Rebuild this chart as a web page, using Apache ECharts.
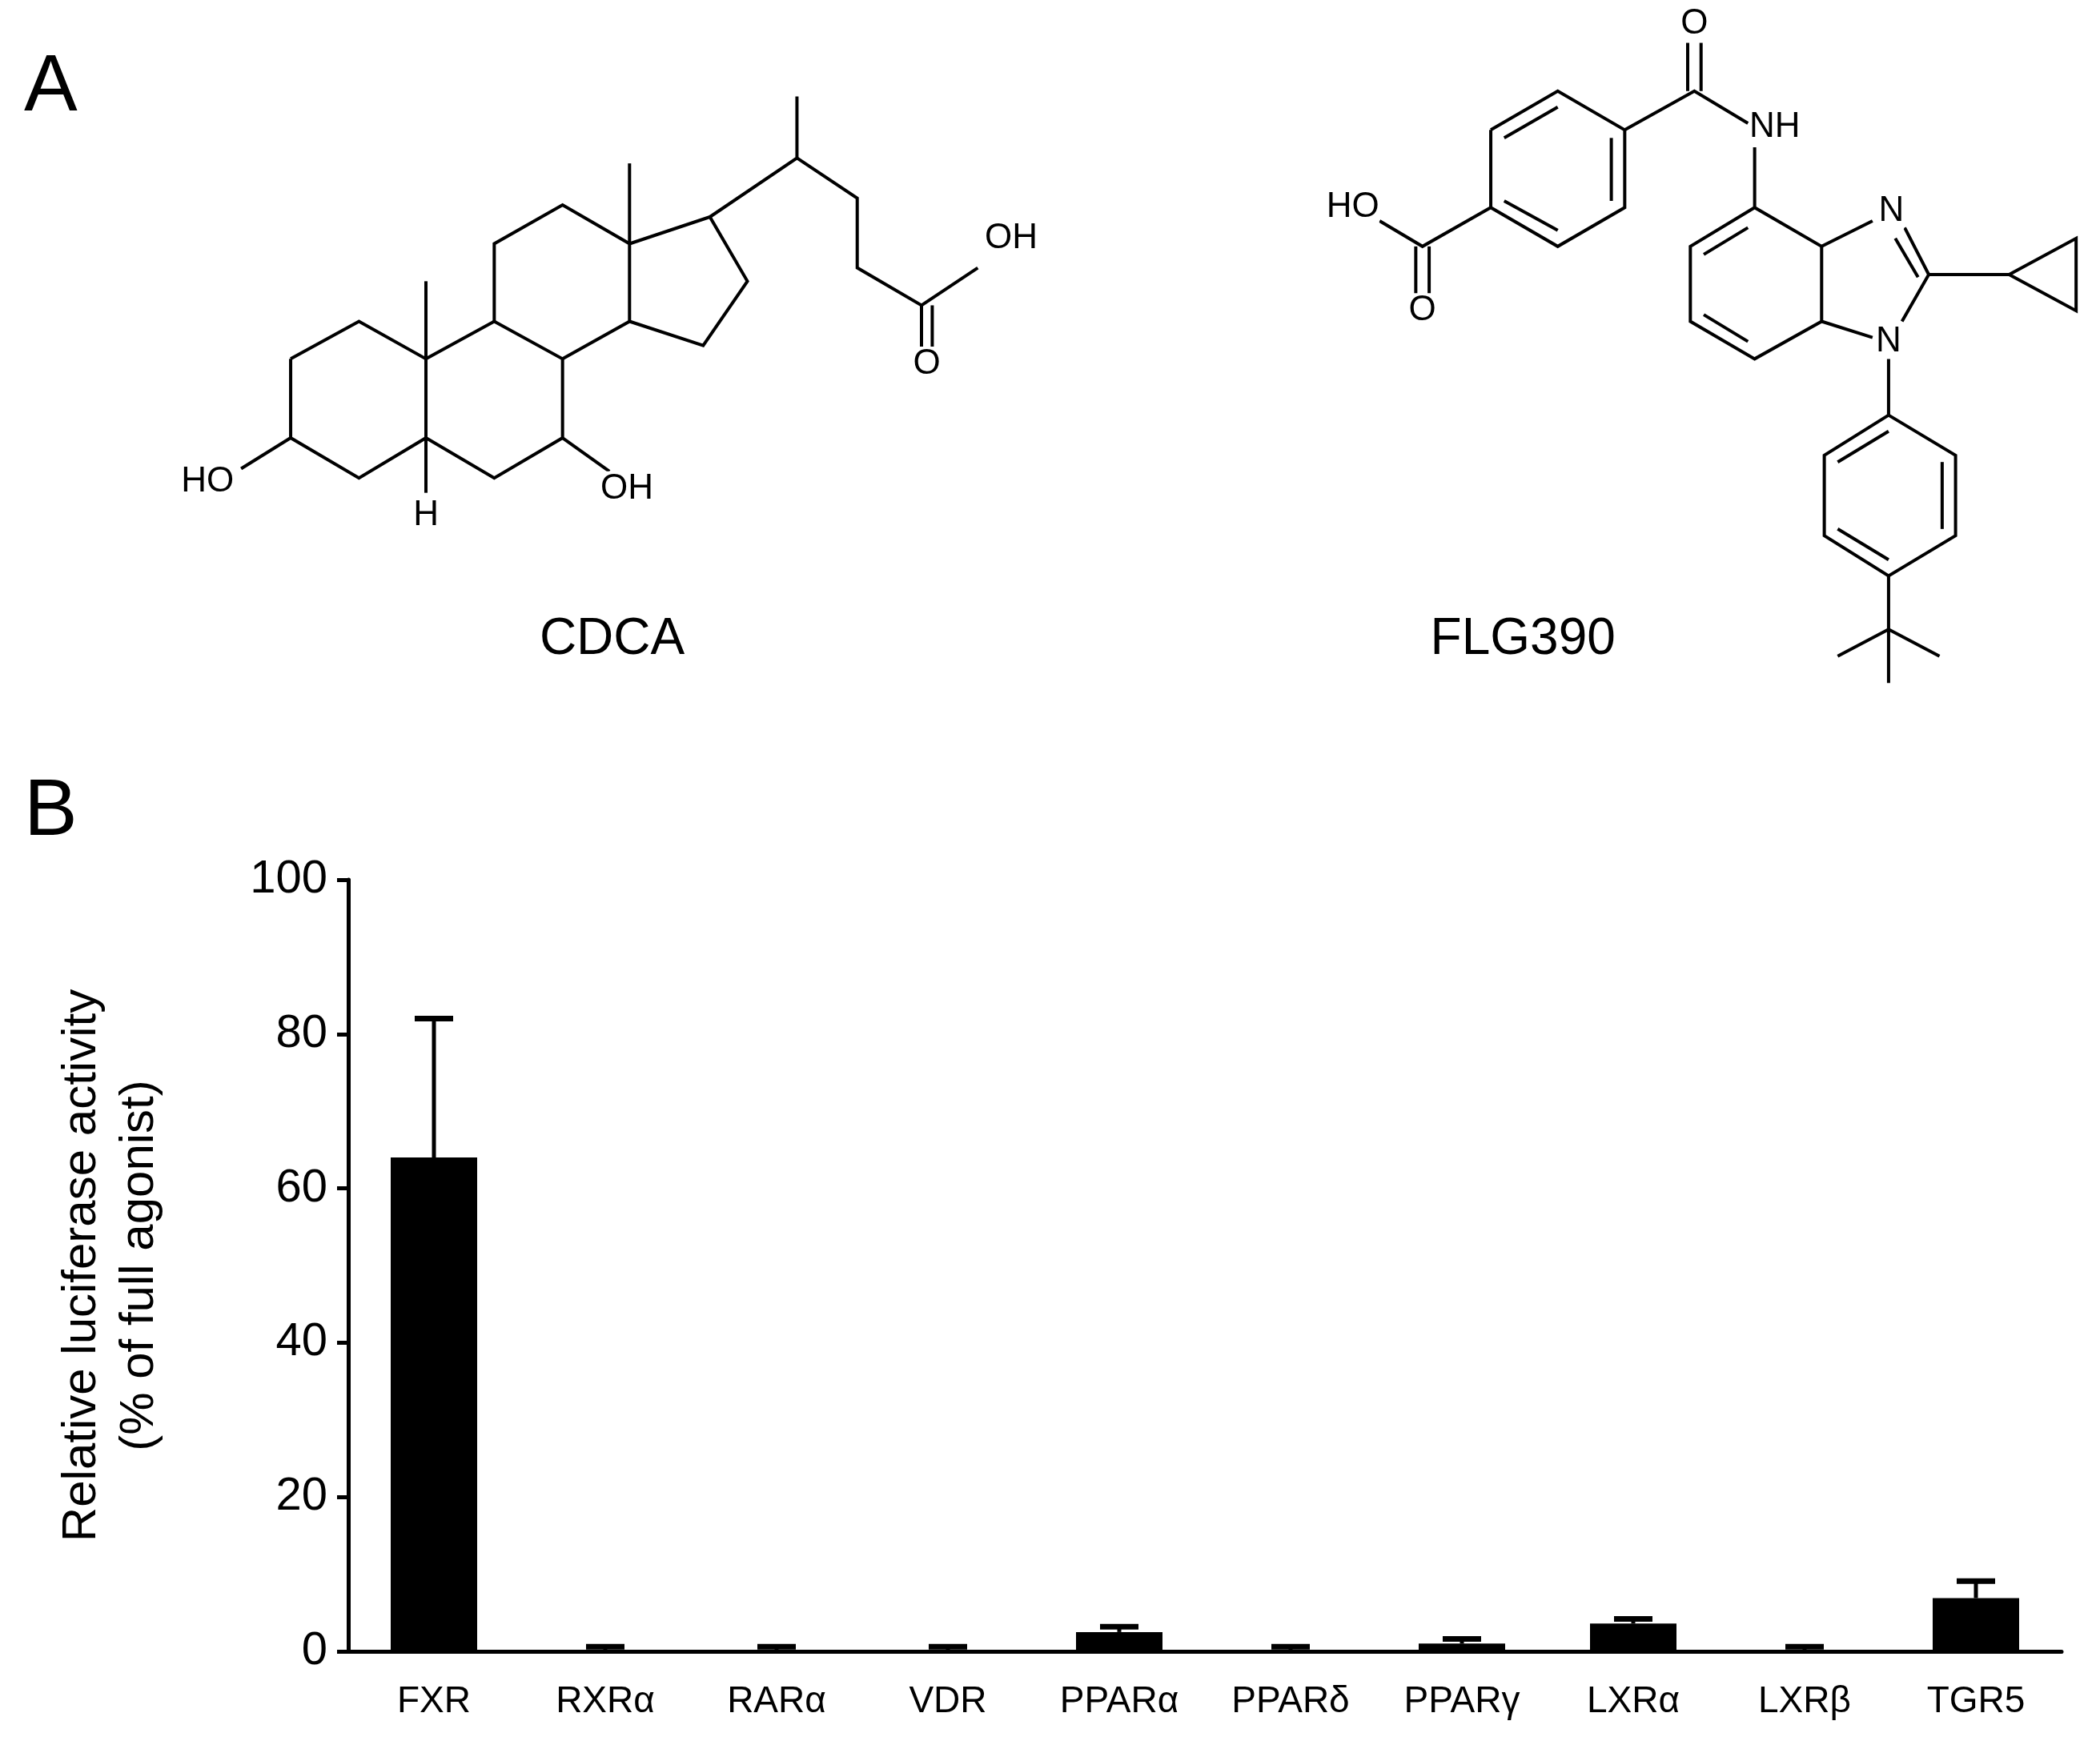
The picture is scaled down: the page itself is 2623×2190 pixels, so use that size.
<!DOCTYPE html>
<html><head><meta charset="utf-8">
<script src="https://cdn.jsdelivr.net/npm/echarts@6/dist/echarts.min.js"></script>
<style>html,body{margin:0;padding:0;background:#fff}#c{width:2623px;height:2190px}</style>
</head><body><div id="c"></div>
<script>
var receptors = ['FXR', 'RXRα', 'RARα', 'VDR', 'PPARα', 'PPARδ', 'PPARγ', 'LXRα', 'LXRβ', 'TGR5'];
var activity = [64, 0, 0, 0, 2.5, 0, 1.0, 3.6, 0, 6.9];
var errorTop = [82, 0.6, 0.6, 0.6, 3.2, 0.6, 1.6, 4.2, 0.6, 9.1];
var yTicks = [0, 20, 40, 60, 80, 100];

var S = 1.673; // drawing scale for the structures (sketched at ~1568 px width)
var font = 'Arial, "Liberation Sans", sans-serif';

// skeletal formulas, as polylines in sketch coordinates
var bonds = [
  // CDCA
  [[217,268],[268,240],[318,268],[318,327],[268,357],[217,327],[217,268]],
  [[318,268],[369,240],[420,268],[420,327],[369,357],[318,327]],
  [[369,240],[369,182],[420,153],[470,182],[470,240],[420,268]],
  [[470,240],[525,258],[558,210],[530,162],[470,182]],
  [[318,268],[318,210]], [[470,182],[470,122]],
  [[530,162],[595,118],[595,72]],
  [[595,118],[640,148],[640,200],[688,228],[730,200]],
  [[688,228],[688,262]], [[696,228],[696,262]],
  [[217,327],[180,350]], [[420,327],[455,352]], [[318,327],[318,368]],
  // FLG390
  [[1113,97],[1163,68],[1213,97],[1213,155],[1163,184],[1113,155],[1113,97]],
  [[1123,103],[1163,80]], [[1203,103],[1203,150]], [[1123,150],[1163,172]],
  [[1213,97],[1265,68],[1305,92]], [[1260,68],[1260,32]], [[1270,68],[1270,32]],
  [[1113,155],[1062,184],[1030,165]], [[1057,184],[1057,220]], [[1067,184],[1067,220]],
  [[1310,110],[1310,155],[1360,184],[1360,240],[1310,268],[1262,240],[1262,184],[1310,155]],
  [[1272,190],[1305,170]], [[1272,235],[1305,255]],
  [[1360,184],[1398,165]], [[1422,170],[1440,205],[1420,240]], [[1415,178],[1432,207]],
  [[1360,240],[1398,252]],
  [[1440,205],[1500,205],[1550,178],[1550,232],[1500,205]],
  [[1410,265],[1410,310]],
  [[1410,310],[1460,340],[1460,400],[1410,430],[1362,400],[1362,340],[1410,310]],
  [[1450,345],[1450,395]], [[1372,395],[1410,418]], [[1372,345],[1410,322]],
  [[1410,430],[1410,510]], [[1372,490],[1410,470],[1448,490]]
];
var atoms = [
  ['HO',155,360],['OH',468,365],['H',318,385],['OH',755,178],['O',692,272],
  ['O',1265,18],['NH',1325,95],['HO',1010,155],['O',1062,232],['N',1412,158],['N',1410,255]
];

var graphics = [];
bonds.forEach(function (b) {
  graphics.push({ type: 'polyline', shape: { points: b.map(function (p) { return [p[0] * S, p[1] * S]; }) },
    style: { stroke: '#000', lineWidth: 4, fill: null } });
});
atoms.forEach(function (a) {
  graphics.push({ type: 'text', x: a[1] * S, y: a[2] * S,
    style: { text: a[0], font: '44px ' + font, fill: '#000', align: 'center', verticalAlign: 'middle', backgroundColor: '#fff' } });
});
graphics.push(
  { type: 'text', x: 30, y: 110, style: { text: 'A', font: '100px ' + font, fill: '#000', verticalAlign: 'middle' } },
  { type: 'text', x: 30, y: 1015, style: { text: 'B', font: '100px ' + font, fill: '#000', verticalAlign: 'middle' } },
  { type: 'text', x: 457 * S, y: 478 * S, style: { text: 'CDCA', font: '64px ' + font, fill: '#000', align: 'center', verticalAlign: 'middle' } },
  { type: 'text', x: 1137 * S, y: 478 * S, style: { text: 'FLG390', font: '64px ' + font, fill: '#000', align: 'center', verticalAlign: 'middle' } }
);

var chart = echarts.init(document.getElementById('c'));
chart.setOption({
  backgroundColor: '#fff',
  animation: false,
  textStyle: { fontFamily: font },
  graphic: graphics,
  grid: { left: 435, right: 48, top: 1099, bottom: 2190 - 2063 },
  xAxis: {
    type: 'category', data: receptors,
    axisLine: { lineStyle: { color: '#000', width: 5 } },
    axisTick: { show: false },
    axisLabel: { color: '#000', fontSize: 46, margin: 40 }
  },
  yAxis: {
    type: 'value', min: 0, max: 100, interval: 20,
    name: 'Relative luciferase activity\n(% of full agonist)',
    nameLocation: 'middle', nameGap: 225, nameRotate: 90,
    nameTextStyle: { color: '#000', fontSize: 60, lineHeight: 72 },
    axisLine: { show: true, lineStyle: { color: '#000', width: 5 } },
    axisTick: { show: true, length: 14, inside: false, lineStyle: { width: 5, color: '#000' } },
    axisLabel: { color: '#000', fontSize: 58, margin: 26 },
    splitLine: { show: false }
  },
  series: [
    {
      type: 'custom', z: 1,
      renderItem: function (params, api) {
        var x = api.value(0), top = api.value(1);
        var p = api.coord([x, top]), base = api.coord([x, activity[x]]);
        var w = 24;
        return { type: 'group', children: [
          { type: 'line', shape: { x1: p[0], y1: p[1], x2: base[0], y2: base[1] }, style: { stroke: '#000', lineWidth: 5 } },
          { type: 'line', shape: { x1: p[0] - w, y1: p[1], x2: p[0] + w, y2: p[1] }, style: { stroke: '#000', lineWidth: 7 } }
        ] };
      },
      data: errorTop.map(function (v, i) { return [i, v]; })
    },
    {
      type: 'bar', z: 2, data: activity, barWidth: 108,
      itemStyle: { color: '#000' }
    }
  ]
});
</script></body></html>
